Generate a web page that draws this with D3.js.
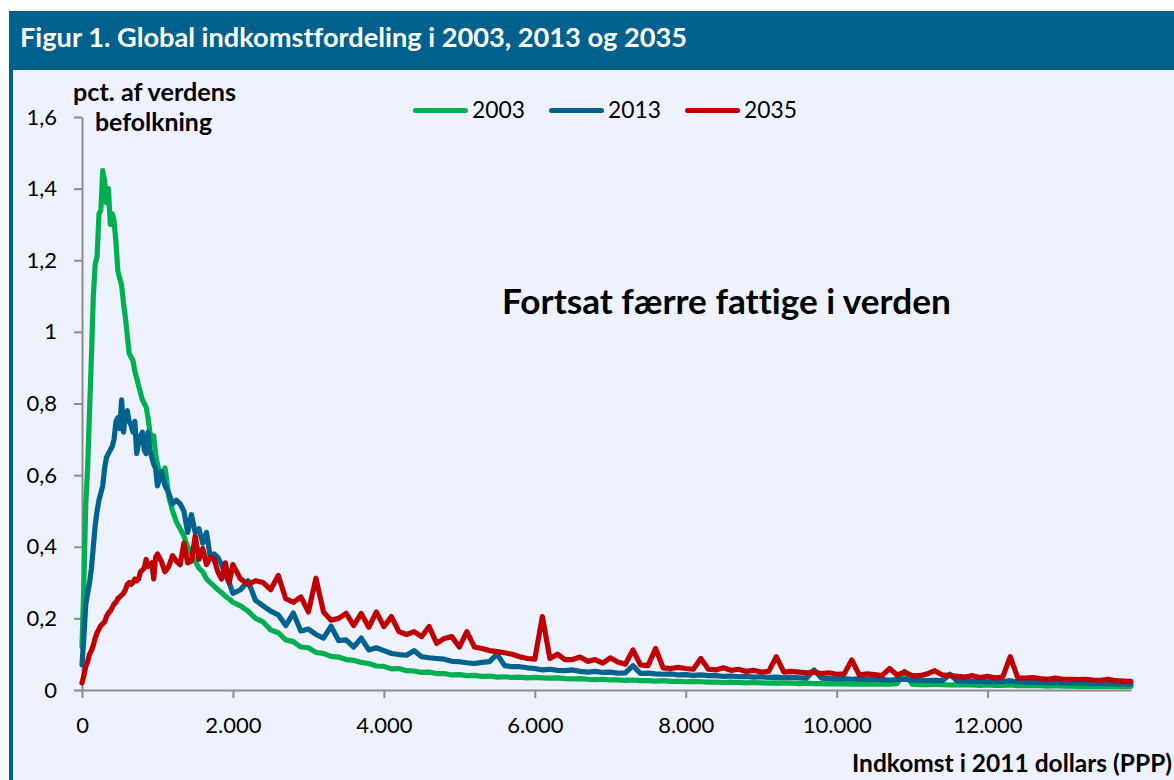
<!DOCTYPE html>
<html>
<head>
<meta charset="utf-8">
<script src="https://cdn.jsdelivr.net/npm/d3@7"></script>
<style>
  body { margin: 0; background: #fff; }
  svg { display: block; font-family: Lato, "Open Sans", sans-serif; }
  svg text { font-variant-ligatures: none; font-feature-settings: "liga" 0, "clig" 0, "dlig" 0; }
</style>
</head>
<body>
<div id="chart"></div>
<script>
// income bins (2011 dollars, PPP)
const income = [
  0, 25, 50, 75, 100, 125, 150, 175, 200, 225,
  250, 275, 300, 325, 350, 375, 400, 425, 450, 475,
  500, 525, 550, 575, 600, 625, 650, 675, 700, 725,
  750, 775, 800, 825, 850, 875, 900, 925, 950, 975,
  1000,
  1050, 1100, 1150, 1200, 1250, 1300, 1350, 1400, 1450, 1500,
  1550, 1600, 1650, 1700, 1750, 1800, 1850, 1900, 1950, 2000,
  2100, 2200, 2300, 2400, 2500, 2600, 2700, 2800, 2900, 3000,
  3100, 3200, 3300, 3400, 3500, 3600, 3700, 3800, 3900, 4000,
  4100, 4200, 4300, 4400, 4500, 4600, 4700, 4800, 4900, 5000,
  5100, 5200, 5300, 5400, 5500, 5600, 5700, 5800, 5900, 6000,
  6100, 6200, 6300, 6400, 6500, 6600, 6700, 6800, 6900, 7000,
  7100, 7200, 7300, 7400, 7500, 7600, 7700, 7800, 7900, 8000,
  8100, 8200, 8300, 8400, 8500, 8600, 8700, 8800, 8900, 9000,
  9100, 9200, 9300, 9400, 9500, 9600, 9700, 9800, 9900, 10000,
  10100, 10200, 10300, 10400, 10500, 10600, 10700, 10800, 10900, 11000,
  11100, 11200, 11300, 11400, 11500, 11600, 11700, 11800, 11900, 12000,
  12100, 12200, 12300, 12400, 12500, 12600, 12700, 12800, 12900, 13000,
  13100, 13200, 13300, 13400, 13500, 13600, 13700, 13800, 13900
];

// pct. of world population
const y2003 = [
  0.12, 0.30, 0.52, 0.62, 0.78, 0.93, 1.10, 1.19, 1.21, 1.33,
  1.34, 1.45, 1.42, 1.36, 1.40, 1.30, 1.33, 1.31, 1.25, 1.17,
  1.15, 1.13, 1.08, 1.04, 0.99, 0.94, 0.93, 0.92, 0.89, 0.87,
  0.85, 0.83, 0.81, 0.80, 0.79, 0.76, 0.72, 0.70, 0.71, 0.66,
  0.63,
  0.59, 0.62, 0.54, 0.50, 0.47, 0.45, 0.43, 0.40, 0.38, 0.36,
  0.34, 0.33, 0.31, 0.30, 0.29, 0.28, 0.272, 0.262, 0.254, 0.245,
  0.235, 0.22, 0.20, 0.19, 0.168, 0.16, 0.14, 0.135, 0.12, 0.118,
  0.105, 0.102, 0.094, 0.092, 0.085, 0.083, 0.077, 0.074, 0.067, 0.066,
  0.059, 0.06, 0.054, 0.053, 0.049, 0.05, 0.046, 0.046, 0.042, 0.043,
  0.04, 0.041, 0.038, 0.039, 0.036, 0.037, 0.035, 0.036, 0.034, 0.035,
  0.034, 0.033, 0.034, 0.032, 0.031, 0.032, 0.030, 0.029, 0.030, 0.028,
  0.028, 0.027, 0.028, 0.026, 0.026, 0.025, 0.026, 0.024, 0.024, 0.023,
  0.024, 0.023, 0.022, 0.022, 0.021, 0.022, 0.021, 0.020, 0.021, 0.020,
  0.019, 0.020, 0.019, 0.019, 0.018, 0.019, 0.018, 0.018, 0.017, 0.018,
  0.017, 0.016, 0.017, 0.016, 0.016, 0.017, 0.016, 0.018, 0.052, 0.016,
  0.015, 0.015, 0.016, 0.015, 0.014, 0.015, 0.014, 0.014, 0.013, 0.014,
  0.013, 0.013, 0.014, 0.012, 0.013, 0.012, 0.012, 0.011, 0.012, 0.011,
  0.011, 0.010, 0.011, 0.010, 0.010, 0.011, 0.010, 0.009, 0.010
];

const y2013 = [
  0.07, 0.15, 0.24, 0.27, 0.30, 0.34, 0.40, 0.46, 0.50, 0.53,
  0.55, 0.57, 0.62, 0.65, 0.66, 0.67, 0.68, 0.70, 0.75, 0.76,
  0.73, 0.81, 0.72, 0.77, 0.78, 0.75, 0.74, 0.72, 0.75, 0.66,
  0.69, 0.71, 0.72, 0.67, 0.66, 0.72, 0.67, 0.65, 0.63, 0.62,
  0.57,
  0.61, 0.57, 0.55, 0.52, 0.53, 0.52, 0.50, 0.44, 0.49, 0.44,
  0.45, 0.41, 0.44, 0.37, 0.38, 0.37, 0.35, 0.32, 0.30, 0.27,
  0.28, 0.305, 0.25, 0.235, 0.22, 0.21, 0.18, 0.215, 0.165, 0.17,
  0.155, 0.145, 0.178, 0.138, 0.14, 0.12, 0.145, 0.112, 0.118, 0.11,
  0.102, 0.099, 0.097, 0.11, 0.093, 0.09, 0.088, 0.086, 0.08, 0.079,
  0.076, 0.074, 0.077, 0.079, 0.10, 0.068, 0.065, 0.065, 0.062, 0.06,
  0.056, 0.058, 0.055, 0.054, 0.056, 0.052, 0.050, 0.052, 0.049, 0.050,
  0.047, 0.048, 0.068, 0.046, 0.047, 0.045, 0.044, 0.045, 0.042, 0.043,
  0.041, 0.042, 0.040, 0.040, 0.038, 0.039, 0.037, 0.038, 0.036, 0.037,
  0.035, 0.036, 0.034, 0.035, 0.034, 0.033, 0.056, 0.033, 0.032, 0.031,
  0.032, 0.030, 0.031, 0.029, 0.030, 0.029, 0.028, 0.029, 0.030, 0.027,
  0.028, 0.026, 0.027, 0.026, 0.044, 0.025, 0.025, 0.024, 0.025, 0.023,
  0.024, 0.023, 0.026, 0.022, 0.022, 0.021, 0.022, 0.020, 0.021, 0.020,
  0.019, 0.020, 0.019, 0.018, 0.019, 0.018, 0.017, 0.017, 0.016
];

const y2035 = [
  0.02, 0.04, 0.065, 0.08, 0.10, 0.11, 0.125, 0.145, 0.16, 0.17,
  0.18, 0.185, 0.19, 0.205, 0.215, 0.22, 0.23, 0.24, 0.245, 0.255,
  0.26, 0.265, 0.27, 0.28, 0.295, 0.30, 0.295, 0.30, 0.31, 0.305,
  0.31, 0.33, 0.335, 0.34, 0.365, 0.345, 0.35, 0.355, 0.31, 0.37,
  0.38,
  0.36, 0.33, 0.345, 0.375, 0.36, 0.35, 0.41, 0.355, 0.36, 0.43,
  0.365, 0.395, 0.35, 0.37, 0.365, 0.33, 0.31, 0.355, 0.30, 0.35,
  0.31, 0.295, 0.305, 0.30, 0.28, 0.32, 0.255, 0.245, 0.26, 0.218,
  0.312, 0.218, 0.195, 0.20, 0.214, 0.18, 0.214, 0.175, 0.218, 0.177,
  0.205, 0.163, 0.155, 0.163, 0.149, 0.177, 0.13, 0.144, 0.149, 0.12,
  0.163, 0.12, 0.116, 0.11, 0.107, 0.104, 0.10, 0.093, 0.088, 0.086,
  0.205, 0.088, 0.10, 0.085, 0.085, 0.092, 0.08, 0.085, 0.075, 0.09,
  0.078, 0.072, 0.112, 0.07, 0.068, 0.116, 0.062, 0.06, 0.063, 0.06,
  0.058, 0.088, 0.058, 0.056, 0.062, 0.055, 0.058, 0.052, 0.055, 0.05,
  0.052, 0.093, 0.05, 0.052, 0.05, 0.048, 0.05, 0.046, 0.048, 0.044,
  0.045, 0.084, 0.042, 0.045, 0.043, 0.04, 0.06, 0.042, 0.05, 0.04,
  0.04, 0.045, 0.054, 0.042, 0.04, 0.038, 0.036, 0.04, 0.035, 0.038,
  0.034, 0.036, 0.093, 0.034, 0.033, 0.035, 0.032, 0.03, 0.033, 0.03,
  0.03, 0.029, 0.03, 0.028, 0.027, 0.03, 0.026, 0.025, 0.024
];

const seriesNames = ["2003", "2013", "2035"];
const seriesColors = ["#00b050", "#00628f", "#c00000"];
const seriesValues = [y2003, y2013, y2035];

const xTicks = [0, 2000, 4000, 6000, 8000, 10000, 12000];
const yTicks = [0, 0.2, 0.4, 0.6, 0.8, 1, 1.2, 1.4, 1.6];

const W = 1174, H = 780;
const headBlue = "#00608e";
const panelBg = "#eef2fe";
const axisGrey = "#8c8c8c";

const da = d3.formatLocale({decimal: ",", thousands: ".", grouping: [3], currency: ["", " kr."]});

const svg = d3.select("#chart").append("svg")
    .attr("width", W)
    .attr("height", H);

// frame
svg.append("rect").attr("x", 0).attr("y", 0).attr("width", W).attr("height", H).attr("fill", "#fff");
svg.append("rect").attr("x", 10).attr("y", 70).attr("width", W - 10).attr("height", H - 70).attr("fill", panelBg);
svg.append("rect").attr("x", 9).attr("y", 11).attr("width", W - 9).attr("height", 59).attr("fill", headBlue);
svg.append("rect").attr("x", 9).attr("y", 11).attr("width", 4).attr("height", H - 11).attr("fill", headBlue);

function fit(sel, w) {
  let fs = parseFloat(sel.attr("font-size"));
  let len = sel.node().getComputedTextLength();
  sel.attr("font-size", (fs * w / len).toFixed(2));
}

fit(svg.append("text")
    .attr("x", 20).attr("y", 47)
    .attr("font-size", 23).attr("font-weight", 700)
    .attr("fill", "#fff")
    .text("Figur 1. Global indkomstfordeling i 2003, 2013 og 2035"), 667);

// scales
const x = d3.scaleLinear().domain([0, 13900]).range([82, 1131]);
const y = d3.scaleLinear().domain([0, 1.6]).range([690, 117]);

const xAxis = svg.append("g")
    .attr("transform", "translate(0,690)")
    .call(d3.axisBottom(x).tickValues(xTicks).tickFormat(da.format(",.0f"))
      .tickSize(8).tickSizeOuter(0).tickPadding(19));
const yAxis = svg.append("g")
    .attr("transform", "translate(82,0)")
    .call(d3.axisLeft(y).tickValues(yTicks).tickFormat(da.format(".1~f"))
      .tickSize(8).tickSizeOuter(0).tickPadding(17));

[xAxis, yAxis].forEach(g => {
  g.select(".domain").attr("stroke", axisGrey).attr("stroke-width", 2);
  g.selectAll(".tick line").attr("stroke", axisGrey).attr("stroke-width", 2);
  g.selectAll(".tick text").attr("font-size", 22).attr("fill", "#000")
    .attr("font-family", "Lato, 'Open Sans', sans-serif");
});

// lines
const line = d3.line()
    .x((d, i) => x(income[i]))
    .y(d => y(d));

seriesValues.forEach((vals, k) => {
  svg.append("path")
      .datum(vals)
      .attr("fill", "none")
      .attr("stroke", seriesColors[k])
      .attr("stroke-width", 5.2)
      .attr("stroke-linejoin", "round")
      .attr("stroke-linecap", "round")
      .attr("d", line);
});

// y title
fit(svg.append("text").attr("x", 73).attr("y", 101)
    .attr("font-size", 20).attr("font-weight", 700)
    .text("pct. af verdens"), 163);
fit(svg.append("text").attr("x", 95).attr("y", 131)
    .attr("font-size", 20).attr("font-weight", 700)
    .text("befolkning"), 117);

// legend
const legendX = [413, 549, 685];
seriesNames.forEach((name, k) => {
  svg.append("line")
      .attr("x1", legendX[k] + 2.5).attr("x2", legendX[k] + 52.5)
      .attr("y1", 110.5).attr("y2", 110.5)
      .attr("stroke", seriesColors[k])
      .attr("stroke-width", 5)
      .attr("stroke-linecap", "round");
  fit(svg.append("text")
      .attr("x", legendX[k] + 59).attr("y", 118)
      .attr("font-size", 22)
      .text(name), 53);
});

// annotation
fit(svg.append("text").attr("x", 502).attr("y", 314)
    .attr("font-size", 30).attr("font-weight", 700)
    .text("Fortsat færre fattige i verden"), 449);

// x title
const xt = svg.append("text").attr("y", 772)
    .attr("font-size", 20).attr("font-weight", 700)
    .text("Indkomst i 2011 dollars (PPP)");
fit(xt, 320);
xt.attr("x", 852);
</script>
</body>
</html>
